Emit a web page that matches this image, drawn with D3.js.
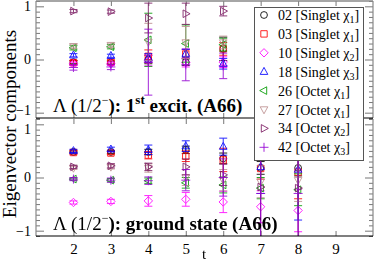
<!DOCTYPE html>
<html><head><meta charset="utf-8">
<script src="https://cdn.jsdelivr.net/npm/d3@7"></script>
<style>body{margin:0;background:#fff}svg{display:block}</style>
</head><body><svg id="c" width="374" height="262"></svg>
<script>
// ---- data ----
const tTop = [2, 3, 4, 5, 6];
const tBottom = [2, 3, 4, 5, 6, 7, 8];
const seriesCodes = ["02", "03", "10", "18", "26", "27", "34", "42"];
const seriesKinds = ["Singlet", "Singlet", "Singlet", "Singlet", "Octet", "Octet", "Octet", "Octet"];
const seriesChi = ["1", "1", "2", "3", "1", "1", "2", "3"];
const xTicks = [2, 3, 4, 5, 6, 7, 8, 9];
const yMajorTicks = [-1, 0, 1];

// first excited state (top panel)
const excitValues = [
  [-0.05, -0.06, 0.00, -0.05, 0.20],
  [-0.06, -0.05, 0.06, 0.10, 0.20],
  [-0.08, -0.08, -0.02, -0.06, -0.05],
  [0.08, 0.07, 0.03, 0.11, -0.08],
  [0.22, 0.24, 0.37, 0.30, 0.28],
  [0.25, 0.27, 0.33, 0.32, 0.32],
  [0.91, 0.90, 0.78, 0.86, 0.91],
  [-0.15, -0.14, -0.05, -0.10, -0.12]
];
const excitErrors = [
  [0.03, 0.03, 0.08, 0.06, 0.22],
  [0.04, 0.04, 0.12, 0.08, 0.12],
  [0.03, 0.03, 0.10, 0.08, 0.10],
  [0.03, 0.03, 0.08, 0.08, 0.10],
  [0.04, 0.04, 0.50, 0.35, 0.12],
  [0.04, 0.04, 0.35, 0.30, 0.12],
  [0.03, 0.03, 0.28, 0.20, 0.09],
  [0.05, 0.05, 0.62, 0.30, 0.24]
];
// ground state (bottom panel)
const groundValues = [
  [0.48, 0.48, 0.48, 0.52, 0.36, 0.18, 0.18],
  [0.47, 0.46, 0.42, 0.40, 0.33, 0.17, 0.10],
  [-0.47, -0.45, -0.44, -0.41, -0.46, -0.55, -0.62],
  [0.50, 0.53, 0.52, 0.59, 0.58, 0.20, 0.15],
  [-0.03, -0.05, -0.06, -0.10, -0.14, -0.20, -0.23],
  [0.18, 0.20, 0.18, 0.00, -0.05, -0.08, -0.05],
  [0.20, 0.22, 0.20, 0.20, 0.05, -0.18, -0.20],
  [-0.03, -0.05, -0.06, -0.05, 0.00, -0.30, -0.30]
];
const groundErrors = [
  [0.02, 0.03, 0.05, 0.07, 0.10, 0.12, 0.15],
  [0.03, 0.03, 0.07, 0.10, 0.22, 0.20, 0.50],
  [0.03, 0.04, 0.10, 0.13, 0.20, 0.30, 0.40],
  [0.03, 0.04, 0.09, 0.10, 0.16, 0.50, 0.95],
  [0.02, 0.03, 0.05, 0.10, 0.15, 0.20, 0.30],
  [0.03, 0.04, 0.08, 0.15, 0.20, 0.30, 0.40],
  [0.03, 0.04, 0.07, 0.15, 0.20, 1.20, 1.20],
  [0.03, 0.04, 0.07, 0.20, 0.35, 1.20, 1.20]
];

// ---- styles ----
const colors = ["#000000", "#ff0000", "#ff00ff", "#0000ff", "#009a00", "#bc8f8f", "#7a1a62", "#9400d3"];
const shapes = ["circle", "square", "diamond", "triUp", "triLeft", "triDown", "triRight", "plus"];
const shapePath = {
  circle: "M3.4,0A3.4,3.4 0 1,1 -3.4,0A3.4,3.4 0 1,1 3.4,0Z",
  square: "M-3.2,-3.2H3.2V3.2H-3.2Z",
  diamond: "M0,-4.2L4.2,0L0,4.2L-4.2,0Z",
  triUp: "M0,-4.3L3.8,2.7L-3.8,2.7Z",
  triDown: "M0,4.3L3.8,-2.7L-3.8,-2.7Z",
  triLeft: "M-4.3,0L2.7,-3.8L2.7,3.8Z",
  triRight: "M4.3,0L-2.7,-3.8L-2.7,3.8Z",
  plus: "M-4.5,0H4.5M0,-4.5V4.5"
};

const svg = d3.select("#c");
const serif = "'Liberation Serif','DejaVu Serif',serif";
const L = 36, R = 373;
const x = d3.scaleLinear([1, 10], [L, R]);
const panels = [
  {top: 1, bottom: 118, ts: tTop, vals: excitValues, errs: excitErrors, label: "1", sup: "st", rest: " excit. (A66)", ty: 112},
  {top: 119, bottom: 236, ts: tBottom, vals: groundValues, errs: groundErrors, label: "", sup: "", rest: " ground state (A66)", ty: 230}
];

panels.forEach((p, pi) => {
  const y = d3.scaleLinear([-1.1, 1.1], [p.bottom, p.top]);
  const g = svg.append("g");
  const clipId = "clip" + pi;
  svg.append("clipPath").attr("id", clipId).append("rect")
    .attr("x", L).attr("y", p.top).attr("width", R - L).attr("height", p.bottom - p.top);

  // y minor ticks
  const minor = d3.range(-11, 12).map(d => d / 10).filter(d => Math.abs(d) !== 1 && d !== 0);
  const axL = g.append("g").attr("transform", `translate(${L},0)`)
    .call(d3.axisLeft(y).tickValues(minor).tickSize(-4).tickFormat(""));
  const axL2 = g.append("g").attr("transform", `translate(${L},0)`)
    .call(d3.axisLeft(y).tickValues(yMajorTicks).tickSize(-8).tickPadding(5).tickFormat(d3.format("d")));
  const axR = g.append("g").attr("transform", `translate(${R},0)`)
    .call(d3.axisRight(y).tickValues(minor).tickSize(-4).tickFormat(""));
  const axR2 = g.append("g").attr("transform", `translate(${R},0)`)
    .call(d3.axisRight(y).tickValues(yMajorTicks).tickSize(-8).tickFormat(""));
  const axT = g.append("g").attr("transform", `translate(0,${p.top})`)
    .call(d3.axisTop(x).tickValues(xTicks).tickSize(-5).tickFormat(""));
  const axB = g.append("g").attr("transform", `translate(0,${p.bottom})`)
    .call(d3.axisBottom(x).tickValues(xTicks).tickSize(-5).tickPadding(7)
      .tickFormat(pi === 1 ? d3.format("d") : ""));
  [axL, axL2, axR, axR2, axT, axB].forEach(a => {
    a.select(".domain").remove();
    a.selectAll("line").attr("stroke", "#777").attr("stroke-width", 1);
    a.selectAll("text").attr("font-family", serif).attr("font-size", 15).attr("fill", "#000");
  });
  // keep the stacked "-1" / "1" labels from colliding
  axL2.selectAll("text").attr("font-size", 14)
    .attr("dy", d => (pi === 0 && d === -1) ? "0.1em" : (pi === 1 && d === 1) ? "0.62em" : "0.32em");

  // data
  const dg = g.append("g").attr("clip-path", `url(#${clipId})`);
  p.vals.forEach((vals, si) => {
    const c = colors[si];
    const sg = dg.append("g").attr("stroke", c).attr("fill", "none").attr("stroke-width", 1).attr("opacity", 0.85);
    vals.forEach((v, i) => {
      const t = p.ts[i], e = p.errs[si][i];
      const cx = x(t), y0 = y(v - e), y1 = y(v + e);
      sg.append("line").attr("x1", cx).attr("x2", cx).attr("y1", y0).attr("y2", y1);
      sg.append("line").attr("x1", cx - 4).attr("x2", cx + 4).attr("y1", y0).attr("y2", y0);
      sg.append("line").attr("x1", cx - 4).attr("x2", cx + 4).attr("y1", y1).attr("y2", y1);
      sg.append("path").attr("d", shapePath[shapes[si]]).attr("transform", `translate(${cx},${y(v)})`);
    });
  });

  // frame
  g.append("line").attr("x1", L).attr("x2", L).attr("y1", p.top).attr("y2", p.bottom).attr("stroke", "#888").attr("stroke-width", 1.2);
  g.append("line").attr("x1", R).attr("x2", R).attr("y1", p.top).attr("y2", p.bottom).attr("stroke", "#888").attr("stroke-width", 1.2);
  if (pi === 0) g.append("line").attr("x1", L).attr("x2", R).attr("y1", p.top).attr("y2", p.top).attr("stroke", "#888").attr("stroke-width", 1.5);
  g.append("line").attr("x1", L).attr("x2", R).attr("y1", p.bottom).attr("y2", p.bottom).attr("stroke", "#000").attr("stroke-width", 1.2);

  // annotation
  const tx = g.append("text").attr("x", 53).attr("y", p.ty).attr("font-family", serif).attr("font-size", 19).attr("fill", "#000");
  tx.append("tspan").text("Λ (1/2");
  tx.append("tspan").attr("font-size", 12).attr("dy", -8).text("−");
  tx.append("tspan").attr("dy", 8).attr("font-weight", "bold").text("): " + p.label);
  if (p.sup) {
    tx.append("tspan").attr("font-weight", "bold").attr("font-size", 13).attr("dy", -8).text(p.sup);
    tx.append("tspan").attr("font-weight", "bold").attr("dy", 8).text(p.rest);
  } else {
    tx.append("tspan").attr("font-weight", "bold").text(p.rest.trim());
  }
});

// axis titles
svg.append("text").attr("x", 204).attr("y", 259).attr("text-anchor", "middle")
  .attr("font-family", serif).attr("font-size", 15).text("t");
svg.append("text").attr("transform", "translate(16,124) rotate(-90)").attr("text-anchor", "middle")
  .attr("font-family", serif).attr("font-size", 19).text("Eigenvector components");

// legend
const lg = svg.append("g");
lg.append("rect").attr("x", 254.5).attr("y", 7.5).attr("width", 109).attr("height", 153)
  .attr("fill", "#fff").attr("stroke", "#555").attr("stroke-width", 1);
seriesCodes.forEach((code, i) => {
  const yy = 15 + i * 18.9;
  lg.append("path").attr("d", shapePath[shapes[i]]).attr("transform", `translate(264,${yy})`)
    .attr("fill", "none").attr("stroke", colors[i]).attr("opacity", 0.85);
  const t = lg.append("text").attr("x", 278).attr("y", yy + 5).attr("font-family", serif).attr("font-size", 14).attr("fill", "#000");
  t.append("tspan").text(`${code} [${seriesKinds[i]} χ`);
  t.append("tspan").attr("font-size", 10).attr("dy", 3).text(seriesChi[i]);
  t.append("tspan").attr("dy", -3).text("]");
});
</script></body></html>
